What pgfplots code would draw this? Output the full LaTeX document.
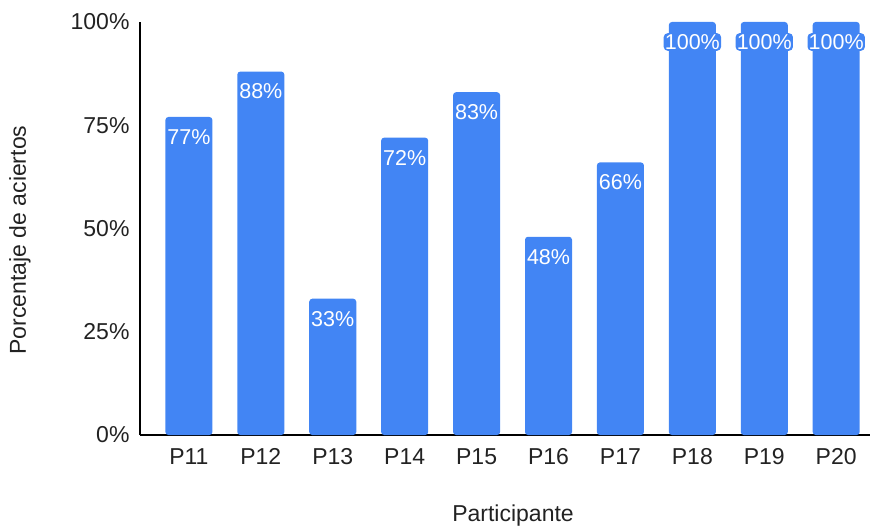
\documentclass[border=0pt]{standalone}
\usepackage{fontspec}
\setmainfont{Liberation Sans}
\usepackage{pgfplots}
\pgfplotsset{compat=1.18}
\definecolor{barblue}{HTML}{4285F4}
\definecolor{txt}{HTML}{222222}
\newcommand{\fs}{\fontsize{23bp}{27bp}\selectfont}
\newcommand{\fsn}{\fontsize{21.5bp}{25bp}\selectfont}
\begin{document}
\begin{tikzpicture}
\path[use as bounding box] (-140bp,-93bp) rectangle (733bp,435bp);
\begin{axis}[
  scale only axis,
  width=730bp, height=413bp,
  at={(0,0)}, anchor=south west,
  xmin=-0.68, xmax=9.47,
  ymin=0, ymax=100,
  axis x line*=bottom, axis y line*=left,
  axis line style={black, line width=1.3bp},
  major tick length=0pt,
  xtick={0,...,9},
  xticklabels={P11,P12,P13,P14,P15,P16,P17,P18,P19,P20},
  ytick={0,25,50,75,100},
  yticklabels={0\%,25\%,50\%,75\%,100\%},
  tick label style={font=\fs, text=txt},
  xticklabel style={yshift=-10bp},
  yticklabel style={xshift=-7bp},
  xlabel={Participante},
  ylabel={Porcentaje de aciertos},
  label style={font=\fs, text=txt},
  xlabel style={at={(axis description cs:0.511,-0.196)}, anchor=center},
  ylabel style={at={(axis description cs:-0.1644,0.472)}, anchor=center},
  ybar, bar width=47bp,
  /pgf/number format/assume math mode=true,
  nodes near coords={\pgfmathprintnumber{\pgfplotspointmeta}\%},
  every node near coord/.append style={font=\fsn, text=white, fill=barblue,
     rounded corners=4bp, inner sep=1.2bp, anchor=center, yshift=-20bp},
  clip=false,
]
\addplot[fill=barblue, draw=none, rounded corners=3bp] coordinates {
(0,77) (1,88) (2,33) (3,72) (4,83) (5,48) (6,66) (7,100) (8,100) (9,100)
};
\end{axis}
\end{tikzpicture}
\end{document}
